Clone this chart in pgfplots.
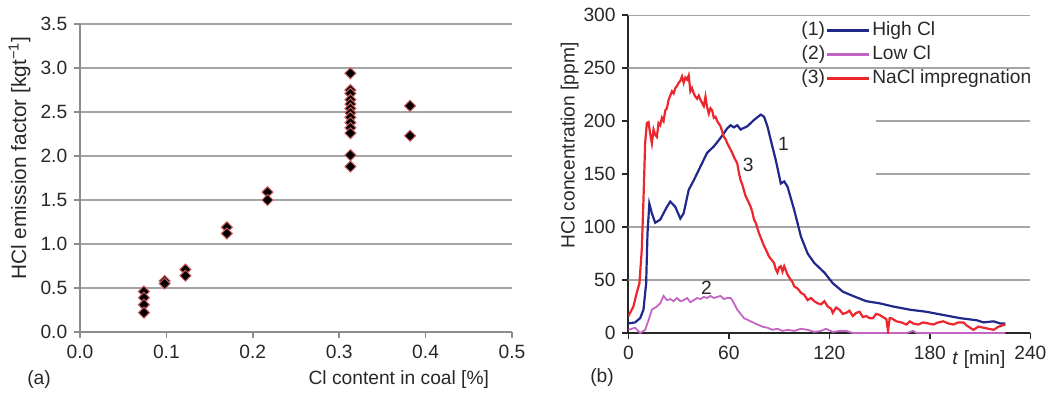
\documentclass[border=0pt]{standalone}
\usepackage{pgfplots}
\pgfplotsset{compat=1.18}
\usepackage{fontspec}
\setmainfont{Liberation Sans}
\definecolor{hiblue}{RGB}{32,40,140}
\definecolor{lopurple}{RGB}{196,100,196}
\definecolor{nared}{RGB}{236,38,44}
\definecolor{gridgray}{RGB}{165,165,165}
\definecolor{axgray}{RGB}{140,140,140}
\definecolor{mkred}{RGB}{205,95,95}
\definecolor{txt}{RGB}{40,40,40}
\begin{document}
\fontsize{9.6}{11.5}\selectfont
\begin{tikzpicture}
\path[use as bounding box] (0pt,0pt) rectangle (523pt,196pt);
\node[text=txt] at (19.5pt,6pt) {(a)};
\node[text=txt] at (301pt,7pt) {(b)};
% ---------------- left panel ----------------
\begin{axis}[
  at={(40pt,30pt)}, anchor=south west,
  width=216pt, height=154pt, scale only axis,
  xmin=0, xmax=0.5, ymin=0, ymax=3.5,
  xtick={0,0.1,0.2,0.3,0.4,0.5},
  ytick={0,0.5,1,1.5,2,2.5,3,3.5},
  /pgf/number format/assume math mode=true,
  xticklabel style={/pgf/number format/.cd, fixed, fixed zerofill, precision=1},
  yticklabel style={/pgf/number format/.cd, fixed, fixed zerofill, precision=1},
  ticklabel style={text=txt},
  axis x line*=bottom, axis y line*=left,
  axis line style={-, axgray, line width=0.9pt},
  tick style={axgray, line width=0.8pt},
  tick align=outside, major tick length=3pt,
  ymajorgrids, grid style={gridgray, line width=0.6pt},
  xlabel={Cl content in coal [\%]},
  xlabel style={at={(axis description cs:0.738,0)}, anchor=north, yshift=-16pt, text=txt},
  ylabel={HCl emission factor [kgt\textsuperscript{−1}]},
  ylabel style={at={(axis description cs:-0.14,0.565)}, anchor=center, text=txt,
    font=\fontsize{10.4}{12}\selectfont},
  clip=false,
]
\addplot[only marks, mark=square*, mark size=1.95pt,
  mark options={rotate=45, fill=black, draw=mkred, line width=0.5pt}] table {
x y
0.074 0.46
0.074 0.39
0.074 0.31
0.074 0.22
0.098 0.58
0.098 0.55
0.122 0.71
0.122 0.64
0.170 1.19
0.170 1.12
0.217 1.59
0.217 1.50
0.313 2.94
0.313 2.75
0.313 2.71
0.313 2.64
0.313 2.59
0.313 2.54
0.313 2.49
0.313 2.44
0.313 2.38
0.313 2.32
0.313 2.26
0.313 2.01
0.313 1.88
0.382 2.57
0.382 2.23
};
\end{axis}
% ---------------- right panel ----------------
\begin{axis}[
  at={(314.2pt,29.5pt)}, anchor=south west,
  width=201pt, height=159pt, scale only axis,
  xmin=0, xmax=240, ymin=0, ymax=300,
  xtick={0,60,120,180,240},
  ytick={0,50,100,150,200,250,300},
  /pgf/number format/assume math mode=true,
  ticklabel style={text=txt},
  axis x line*=bottom, axis y line*=left,
  axis line style={-, black!85, line width=1pt},
  tick style={black!85, line width=0.9pt},
  tick align=outside, major tick length=3pt,
  xlabel={\textit{t} [min]},
  xlabel style={at={(axis description cs:0.872,0)}, anchor=north, yshift=-5.5pt, text=txt},
  ylabel={HCl concentration [ppm]},
  ylabel style={at={(axis description cs:-0.146,0.59)}, anchor=center, text=txt},
  legend style={draw=none, fill=none, at={(axis cs:102.5,297)}, anchor=north west,
    inner sep=0pt, row sep=0pt,
    nodes={inner sep=1pt, text height=7.5pt, text depth=2.5pt, text=txt},
    /tikz/every even column/.append style={column sep=1.5pt}},
  legend cell align=left,
]
\draw[gridgray, line width=0.6pt] (axis cs:0,50) -- (axis cs:240,50);
\draw[gridgray, line width=0.6pt] (axis cs:0,100) -- (axis cs:240,100);
\draw[gridgray, line width=0.6pt] (axis cs:148,150) -- (axis cs:240,150);
\draw[gridgray, line width=0.6pt] (axis cs:148,200) -- (axis cs:240,200);
\draw[gridgray, line width=0.6pt] (axis cs:0,250) -- (axis cs:240,250);
\draw[gridgray, line width=0.6pt] (axis cs:0,300) -- (axis cs:240,300);
\addplot[hiblue, line width=1.1pt,
  legend image code/.code={\draw[hiblue, line width=1.2pt] (0pt,0pt) -- (21pt,0pt);
    \node[anchor=east, inner sep=0.5pt, text=txt] at (0pt,0pt) {(1)};}] table {
x y
0 9
4 10
7 14
9 22
10.6 47
11.4 94
12.5 122
14 113
16 104
19 107
23 119
25 124
28 119
31 108
33 113
36 135
39 144
43 157
47 170
51 176
55 184
59 193
61 196
63 194
65 196
67 192
71 195
75 201
79 206
81 204
83 195
85 182
88 163
91 141
93 143
95 138
99 116
103 91
107 75
111 66
117 57
122 47
128 39
134 35
142 30
150 28
158 25
168 22
178 20
188 17
198 14
208 12
212 10
218 11
222 9
225 9
};
\addlegendentry{High Cl}
\addplot[lopurple, line width=0.9pt,
  legend image code/.code={\draw[lopurple, line width=1.2pt] (0pt,0pt) -- (21pt,0pt);
    \node[anchor=east, inner sep=0.5pt, text=txt] at (0pt,0pt) {(2)};}] table {
x y
0 3
4 5
7 0
10 3
12 12
14 22
17 25
19 28
21 35
23 31
25 32
27 30
29 33
31 30
33 31
35 33
37 29
39 31
41 33
43 32
45 34
47 33
49 35
51 33
53 34
55 35
57 32
59 33
61 33
62 31
65 22
69 14
73 11
77 8
80 6
83 5
86 3
89 4
92 2
95 3
99 2
103 4
107 3
111 1
115 2
118 4
122 1
126 2
130 2
134 0
138 0
158 0
166 0
170 2
172 0
178 0
225 0
};
\addlegendentry{Low Cl}
\addplot[nared, line width=1.1pt,
  legend image code/.code={\draw[nared, line width=1.2pt] (0pt,0pt) -- (21pt,0pt);
    \node[anchor=east, inner sep=0.5pt, text=txt] at (0pt,0pt) {(3)};}] table {
x y
0 16
3 25
5 38
6.6 47
8 79
9 126
10 179
11 198
12 199
13 188
14 179
15 192
16 187
17 185
18 198
19 196
20 203
21 200
22 210
23 212
24 220
25 224
26 228
27 226
28 231
29 233
30 236
31 238
32 242
33 236
34 241
35 239
36 243
37 228
38 231
39 226
40 223
41 221
42 224
43 220
44 217
45 214
46 223
47 213
48 207
49 212
50 210
51 203
52 204
53 200
55 195
56 190
57 185
58 183
59 179
60 176
62 170
63 166
65 160
66 151
67 144
68 140
70 129
71 126
73 119
74 114
75 107
76 104
78 94
79 90
81 82
82 79
84 72
85 70
87 66
88 60
89 57
90 62
91 63
92 58
93 63
95 55
97 50
98 48
99 44
101 42
103 38
105 36
107 31
109 33
111 30
113 28
115 27
117 30
119 25
121 23
122 19
124 24
126 22
128 18
130 19
132 21
134 16
136 19
138 20
140 15
142 16
144 14
146 14
148 18
150 17
152 15
154 13
155 2
156 14
157 14
160 11
163 10
166 8
168 11
170 9
173 8
176 10
179 9
182 8
185 10
188 11
191 9
194 8
197 10
200 10
202 7
204 5
206 3
209 6
212 5
215 4
218 3
221 6
225 8
};
\addlegendentry{NaCl impregnation}
\node[text=txt] at (axis cs:92.5,178) {1};
\node[text=txt] at (axis cs:71.6,159) {3};
\node[text=txt] at (axis cs:46.6,43) {2};
\end{axis}
\end{tikzpicture}
\end{document}
